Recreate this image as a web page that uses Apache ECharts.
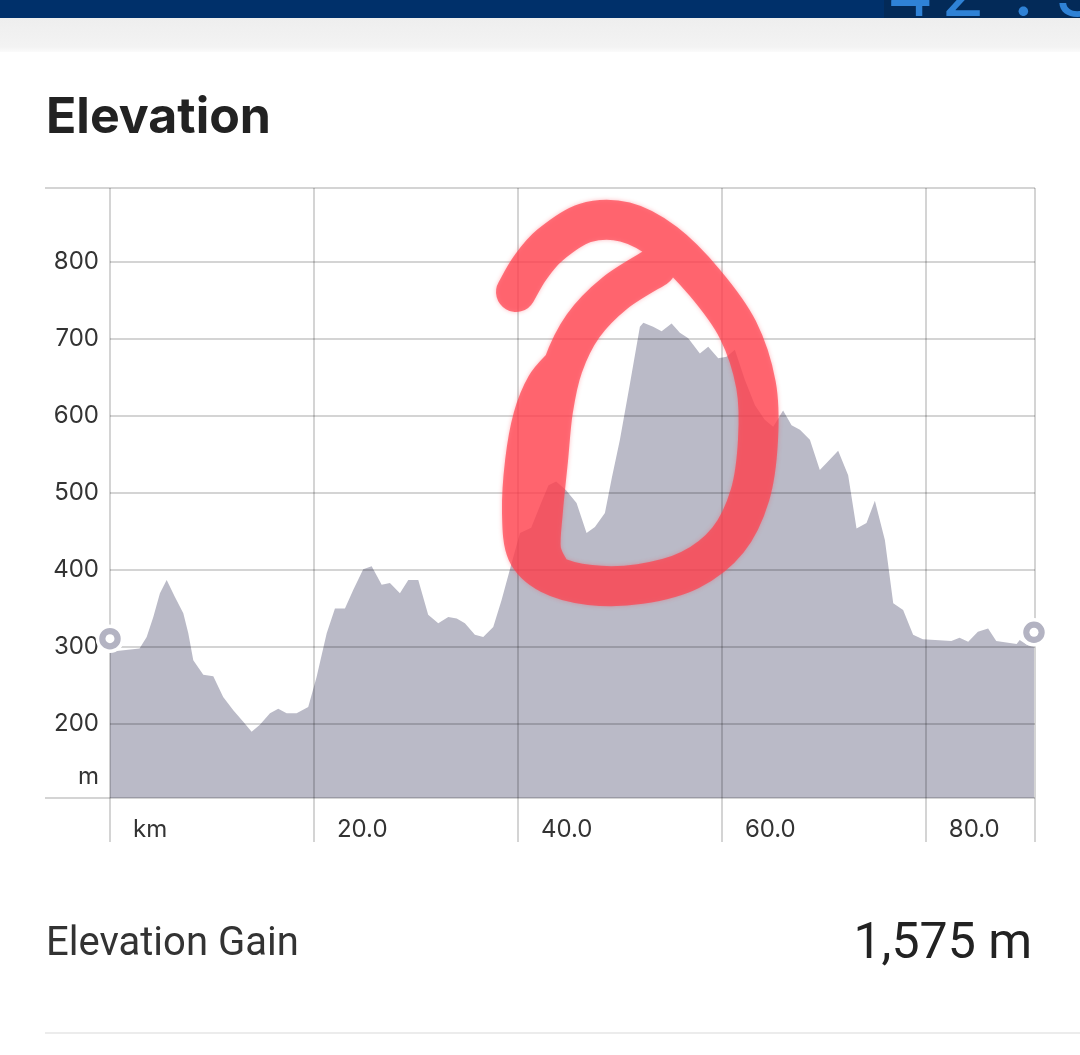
<!DOCTYPE html>
<html>
<head>
<meta charset="utf-8">
<script src="https://cdn.jsdelivr.net/npm/echarts@6/dist/echarts.min.js"></script>
<style>
html,body{margin:0;padding:0;background:#fff;}
#chart{width:1080px;height:1055px;}
</style>
</head>
<body>
<div id="chart"></div>
<script>
// ---------- data ----------
const distanceKm = [0, 2.9, 3.6, 4.25, 4.9, 5.56, 6.37, 7.19, 7.68, 8.17, 9.15, 10.13, 11.1, 12.09, 13.07, 13.89,
  14.7, 15.69, 16.5, 17.32, 18.3, 19.44, 20.26, 21.25, 22.06, 23.04, 23.85, 24.83, 25.66, 26.64, 27.45, 28.43,
  29.25, 30.23, 31.2, 32.19, 33.17, 34.0, 34.8, 35.78, 36.6, 37.58, 38.4, 39.2, 40.2, 41.3, 42.3, 43.0, 43.75,
  44.7, 45.75, 46.73, 47.55, 48.53, 49.2, 50.0, 51.0, 51.96, 52.3, 53.26, 54.09, 55.07, 55.88, 56.7, 57.84,
  58.66, 59.64, 60.46, 61.27, 62.25, 63.24, 64.2, 65.03, 66.0, 66.83, 67.65, 68.63, 69.6, 70.26, 71.4, 72.38,
  73.2, 74.18, 75.0, 75.98, 76.8, 77.77, 78.75, 79.7, 82.5, 83.3, 84.15, 85.1, 86.1, 86.9, 88.9, 89.2, 89.9, 90.6];
const elevationM = [294, 298, 313, 339, 370, 387, 365, 344, 318, 283, 264, 262, 235, 218, 203, 190,
  199, 214, 220, 214, 214, 222, 261, 318, 350, 350, 374, 401, 405, 381, 383, 370,
  387, 387, 342, 331, 339, 337, 331, 316, 313, 326, 361, 400, 448, 455, 488, 510, 515,
  504, 487, 448, 456, 474, 519, 569, 643, 716, 721, 716, 710, 720, 708, 701, 681,
  690, 675, 677, 686, 647, 614, 595, 586, 607, 588, 582, 569, 530, 539, 555, 523,
  454, 461, 490, 439, 357, 348, 316, 310, 308, 312, 307, 320, 324, 308, 304, 309, 303, 301];
const xTickValues = [0, 20, 40, 60, 80];
const yTickValues = [200, 300, 400, 500, 600, 700, 800];
const routeEndKm = 90.7;
const titleText = 'Elevation';
const gainLabel = 'Elevation Gain';
const gainValue = '1,575 m';
const headerDigits = ['4', '2', '.', '3'];

// ---------- chart ----------
const FONT = 'Inter, "Noto Sans", sans-serif';
const GRID_COLOR = 'rgba(0,0,0,0.17)';
const Y_MIN = 104, Y_MAX = 896, X_MIN = -6.37;
const UNIT_Y = 132;

const profile = distanceKm.map((d, i) => [d, elevationM[i]]);
const last = profile.length - 1;

// custom shape for the hand-drawn marker (one path, several subpaths => uniform alpha)
echarts.graphic.registerShape('markerStroke', echarts.graphic.extendShape({
  shape: { paths: [] },
  buildPath(ctx, shape) {
    shape.paths.forEach(pts => {
      ctx.moveTo(pts[0][0], pts[0][1]);
      for (let i = 0; i < pts.length - 1; i++) {
        const p0 = pts[i - 1] || pts[i], p1 = pts[i], p2 = pts[i + 1], p3 = pts[i + 2] || p2;
        ctx.bezierCurveTo(
          p1[0] + (p2[0] - p0[0]) / 6, p1[1] + (p2[1] - p0[1]) / 6,
          p2[0] - (p3[0] - p1[0]) / 6, p2[1] - (p3[1] - p1[1]) / 6,
          p2[0], p2[1]);
      }
    });
  }
}));

const loopPath = [[516, 292], [530, 268], [550, 245], [585, 223], [625, 222], [665, 243], [705, 283], [738, 330],
  [756, 385], [758, 440], [750, 495], [728, 540], [690, 570], [640, 584], [590, 585], [550, 574], [527, 552],
  [522, 512], [525, 462], [533, 418], [546, 386], [563, 366]];
const innerPath = [[656, 267], [615, 293], [583, 326], [563, 366], [553, 410], [548, 460], [543, 510], [541, 550], [552, 574]];

const headerX = [887, 941, 1013, 1055];

const HANDLE_OFFSETS = [[0, -13], [0, -14]];
const handleData = [profile[0], profile[last]].map((p, i) => ({ value: p, symbolOffset: HANDLE_OFFSETS[i] }));

const chart = echarts.init(document.getElementById('chart'), null, { renderer: 'canvas' });
chart.setOption({
  animation: false,
  backgroundColor: '#fff',
  grid: { left: 45, right: 45, top: 188, bottom: 257, containLabel: false },
  xAxis: {
    type: 'value', min: X_MIN, max: routeEndKm,
    axisLine: { show: false },
    splitLine: { show: false },
    axisTick: {
      show: true, customValues: xTickValues.concat([routeEndKm]), length: 44,
      lineStyle: { color: GRID_COLOR, width: 2 }
    },
    axisLabel: {
      customValues: xTickValues,
      formatter: v => (v === 0 ? 'km' : v.toFixed(1)),
      align: 'left', padding: [0, 0, 0, 23], margin: 20,
      fontSize: 24, color: '#333', fontFamily: FONT
    }
  },
  yAxis: {
    type: 'value', min: Y_MIN, max: Y_MAX,
    axisLine: { show: false }, axisTick: { show: false }, splitLine: { show: false },
    axisLabel: {
      inside: true, customValues: [UNIT_Y].concat(yTickValues),
      formatter: v => (v === UNIT_Y ? 'm' : String(v)),
      align: 'right', margin: 54, fontSize: 24, color: '#333', fontFamily: FONT
    }
  },
  series: [
    {
      type: 'line', data: profile, symbol: 'none', silent: true,
      lineStyle: { width: 0 },
      areaStyle: { color: '#babac7', opacity: 1 },
      markLine: {
        silent: true, symbol: 'none', animation: false,
        label: { show: false },
        lineStyle: { color: GRID_COLOR, width: 2, type: 'solid' },
        data: yTickValues.map(v => [{ coord: [0, v] }, { coord: [routeEndKm, v] }])
          .concat([{ yAxis: Y_MAX }, { yAxis: Y_MIN }])
          .concat(xTickValues.concat([routeEndKm]).map(v => ({ xAxis: v })))
      }
    },
    {
      type: 'scatter', silent: true, z: 5, data: handleData,
      symbol: 'circle', symbolSize: 25,
      itemStyle: { color: '#b3b3c2', borderColor: '#fff', borderWidth: 3.5, opacity: 1 }
    },
    {
      type: 'scatter', silent: true, z: 6, data: handleData,
      symbol: 'circle', symbolSize: 9,
      itemStyle: { color: '#fff', opacity: 1 }
    }
  ],
  graphic: [
    { type: 'rect', shape: { x: 0, y: 0, width: 1080, height: 18 }, style: { fill: '#00306a' }, z: 1 },
    { type: 'rect', shape: { x: 884, y: 0, width: 196, height: 18 }, style: { fill: '#032a58' }, z: 1 }
  ].concat(headerDigits.map((ch, i) => ({
    type: 'text', x: headerX[i], y: 30, z: 2,
    style: { text: ch, font: '400 72px Inter, sans-serif', fill: '#2f82d6', verticalAlign: 'bottom', align: 'left' }
  }))).concat([
    {
      type: 'rect', shape: { x: 0, y: 18, width: 1080, height: 34 }, z: 3,
      style: { fill: new echarts.graphic.LinearGradient(0, 0, 0, 1, [
        { offset: 0, color: '#eeeeee' }, { offset: 0.85, color: '#f3f3f3' }, { offset: 1, color: '#fbfbfb' }]) }
    },
    {
      type: 'text', x: 46, y: 118, z: 3,
      style: { text: titleText, font: 'bold 50px Inter, sans-serif', fill: '#222', verticalAlign: 'middle' }
    },
    {
      type: 'text', x: 46, y: 945, z: 3,
      style: { text: gainLabel, font: '400 40px Roboto, sans-serif', fill: '#333', verticalAlign: 'middle' }
    },
    {
      type: 'text', x: 1032, y: 945, z: 3,
      style: { text: gainValue, font: '400 50px Roboto, sans-serif', fill: '#222', verticalAlign: 'middle', align: 'right' }
    },
    { type: 'rect', shape: { x: 45, y: 1032, width: 1035, height: 2 }, style: { fill: '#ececec' }, z: 3 },
    {
      type: 'markerStroke', z: 101, silent: true,
      shape: { paths: [loopPath, innerPath] },
      style: { fill: null, stroke: 'rgba(255,62,76,0.7)', lineWidth: 40, lineCap: 'round', lineJoin: 'round',
        shadowBlur: 4, shadowColor: 'rgba(255,62,76,0.5)' }
    }
  ])
});
</script>
</body>
</html>
